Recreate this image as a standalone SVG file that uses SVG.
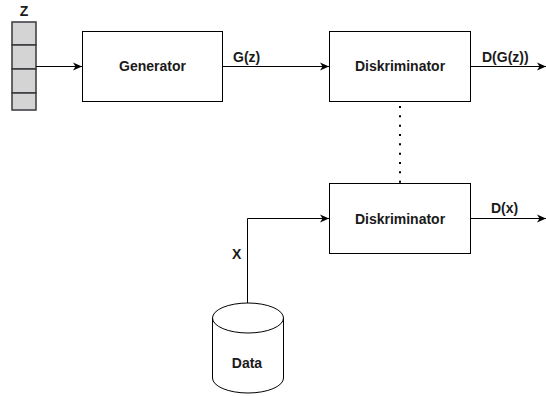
<svg xmlns="http://www.w3.org/2000/svg" width="546" height="396" viewBox="0 0 546 396">
<style>
text{font-family:"Liberation Sans",Arial,Helvetica,sans-serif;font-weight:bold;font-size:14px;fill:#1a1a1a}
.box{fill:#ffffff;stroke:#000;stroke-width:1}
.cell{fill:#d4d4d4;stroke:#36393d;stroke-width:1.5}
.edge{fill:none;stroke:#000;stroke-width:1}
.dot{fill:none;stroke:#000;stroke-width:2;stroke-dasharray:2 7.33}
</style>
<defs>
<marker id="arr" markerUnits="userSpaceOnUse" markerWidth="10" markerHeight="10" refX="9" refY="4" orient="auto" overflow="visible">
<path d="M0,0 L9,4 L0,8 L2.5,4 Z" fill="#000" stroke="none"/>
</marker>
</defs>
<rect width="546" height="396" fill="#ffffff"/>
<g id="z">
<rect class="cell" x="12" y="22" width="24" height="23"/>
<rect class="cell" x="12" y="45" width="24" height="24"/>
<rect class="cell" x="12" y="69" width="24" height="24"/>
<rect class="cell" x="12" y="93" width="24" height="17"/>
<text x="24" y="16" text-anchor="middle">Z</text>
</g>
<g id="generator">
<rect class="box" x="82.5" y="31.5" width="140" height="70"/>
<text x="152.5" y="71" text-anchor="middle">Generator</text>
</g>
<g id="disk1">
<rect class="box" x="329.5" y="31.5" width="141" height="70"/>
<text x="400" y="71" text-anchor="middle">Diskriminator</text>
</g>
<g id="disk2">
<rect class="box" x="329.5" y="183.5" width="141" height="70"/>
<text x="400" y="224" text-anchor="middle">Diskriminator</text>
</g>
<g id="data">
<path class="box" d="M212.5,318 A35.5,15 0 0 1 283.5,318 L283.5,378 A35.5,15 0 0 1 212.5,378 Z"/>
<path class="edge" d="M212.5,318 A35.5,15 0 0 0 283.5,318"/>
<text x="247" y="368" text-anchor="middle">Data</text>
</g>
<g id="connectors">
<path class="edge" d="M36,66.5 H82" marker-end="url(#arr)"/>
<path class="edge" d="M222.5,66.5 H329" marker-end="url(#arr)"/>
<path class="edge" d="M470.5,66.5 H546" marker-end="url(#arr)"/>
<path class="edge" d="M247.5,303 V218.5 H329" marker-end="url(#arr)"/>
<path class="edge" d="M470.5,218.5 H546" marker-end="url(#arr)"/>
<line class="dot" x1="400" y1="106" x2="400" y2="184"/>
<text x="233" y="62">G(z)</text>
<text x="482" y="62">D(G(z))</text>
<text x="491" y="213">D(x)</text>
<text x="232" y="259">X</text>
</g>
</svg>
